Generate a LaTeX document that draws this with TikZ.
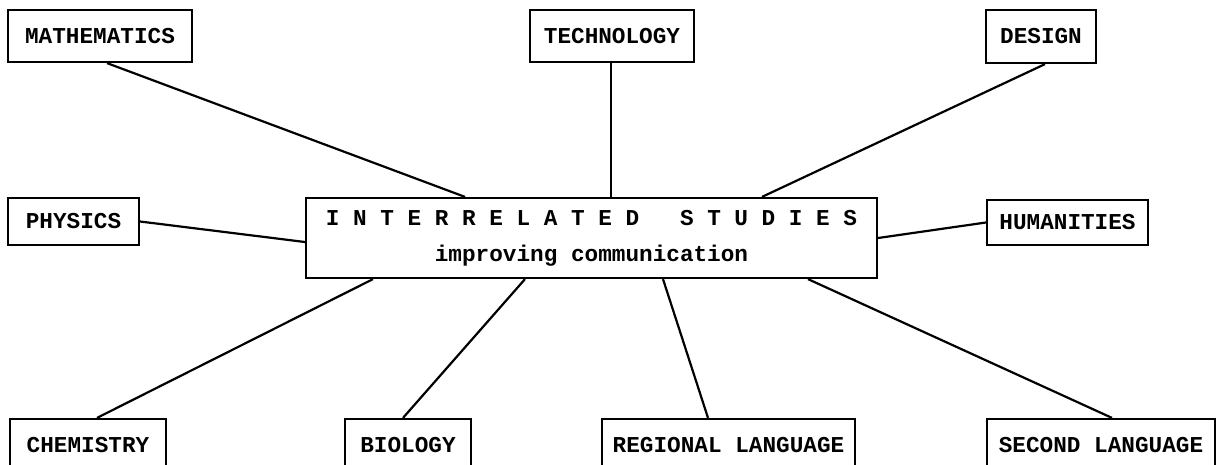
\documentclass[tikz,border=0pt]{standalone}
\usepackage{fontspec}
\setmonofont{Liberation Mono}

\begin{document}
\begin{tikzpicture}[
  x=1pt, y=-1pt,
  box/.style={draw, line width=2.2pt, inner sep=0pt, align=center, font=\ttfamily\bfseries\fontsize{22.7}{36}\selectfont},
  link/.style={line width=2.2pt}
]
\useasboundingbox (0,0) rectangle (1221,464);

\node[box, minimum width=184pt, minimum height=52pt] (math) at (100,36) {MATHEMATICS};
\node[box, minimum width=164pt, minimum height=52pt] (tech) at (612,36) {TECHNOLOGY};
\node[box, minimum width=110pt, minimum height=53pt] (design) at (1041,36.5) {DESIGN};

\node[box, minimum width=131pt, minimum height=47pt] (physics) at (73.5,221.5) {PHYSICS};
\node[box, minimum width=571pt, minimum height=80pt] (central) at (591.5,238) {I N T E R R E L A T E D\ \ \ S T U D I E S\\improving communication};
\node[box, minimum width=161pt, minimum height=45pt] (humanities) at (1067.5,222.5) {HUMANITIES};

\node[box, minimum width=156pt, minimum height=52pt] (chemistry) at (88,445) {CHEMISTRY};
\node[box, minimum width=126pt, minimum height=52pt] (biology) at (408,445) {BIOLOGY};
\node[box, minimum width=253pt, minimum height=52pt] (regional) at (728.5,445) {REGIONAL LANGUAGE};
\node[box, minimum width=228pt, minimum height=52pt] (second) at (1101,445) {SECOND LANGUAGE};

\draw[link] ([xshift=7pt]math.south) -- ([xshift=-126.5pt]central.north);
\draw[link] ([xshift=-1pt]tech.south) -- ([xshift=-1pt]tech.south |- central.north);
\draw[link] ([xshift=4pt]design.south) -- ([xshift=170.5pt]central.north);
\draw[link] (physics.east) -- ([yshift=-4pt]central.west);
\draw[link] (central.east) -- (humanities.west);
\draw[link] ([xshift=-218.5pt]central.south) -- ([xshift=9pt]chemistry.north);
\draw[link] ([xshift=-66.5pt]central.south) -- ([xshift=-5pt]biology.north);
\draw[link] ([xshift=71.5pt]central.south) -- ([xshift=-20.5pt]regional.north);
\draw[link] ([xshift=216.5pt]central.south) -- ([xshift=11pt]second.north);

\end{tikzpicture}
\end{document}
